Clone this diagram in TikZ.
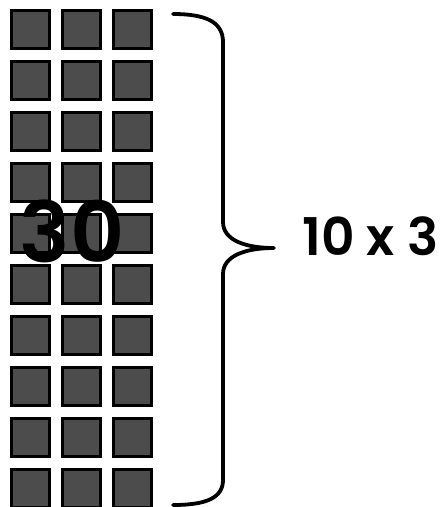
\documentclass[tikz,border=0pt]{standalone}
\usepackage{fontspec}
\setmainfont{Poppins}[BoldFont={Poppins SemiBold}]
\begin{document}
\begin{tikzpicture}[x=1pt,y=-1pt,
  tile/.style={draw=black,line width=3pt,fill=black!70,minimum size=38.5pt,inner sep=0pt,anchor=north west},
  bigtext/.style={font=\fontsize{84}{84}\selectfont\bfseries,inner sep=0pt},
  label/.style={font=\fontsize{52}{52}\selectfont\bfseries,inner sep=0pt,anchor=west},
  bracestyle/.style={line width=3.8pt,line cap=round,line join=round}]
\useasboundingbox (0,0) rectangle (446,507);
\foreach \i in {0,1,2}{
  \foreach \j in {0,...,9}{
    \node[tile] (sq-\i-\j) at ({9.5+51*\i},{8.5+51*\j}) {};
  }
}
\node[bigtext] (thirty) at (72,231) {30};
\draw[bracestyle] (173,14) .. controls (206,14) and (223,22) .. (223,42)
  -- (223,222) .. controls (223,240) and (245,248) .. (274,248)
  coordinate (tip)
  .. controls (245,248) and (223,256) .. (223,274)
  -- (223,480) .. controls (223,498) and (206,505) .. (173,505);
\node[label] (prod) at (302,236) {10 x 3};
\end{tikzpicture}
\end{document}
